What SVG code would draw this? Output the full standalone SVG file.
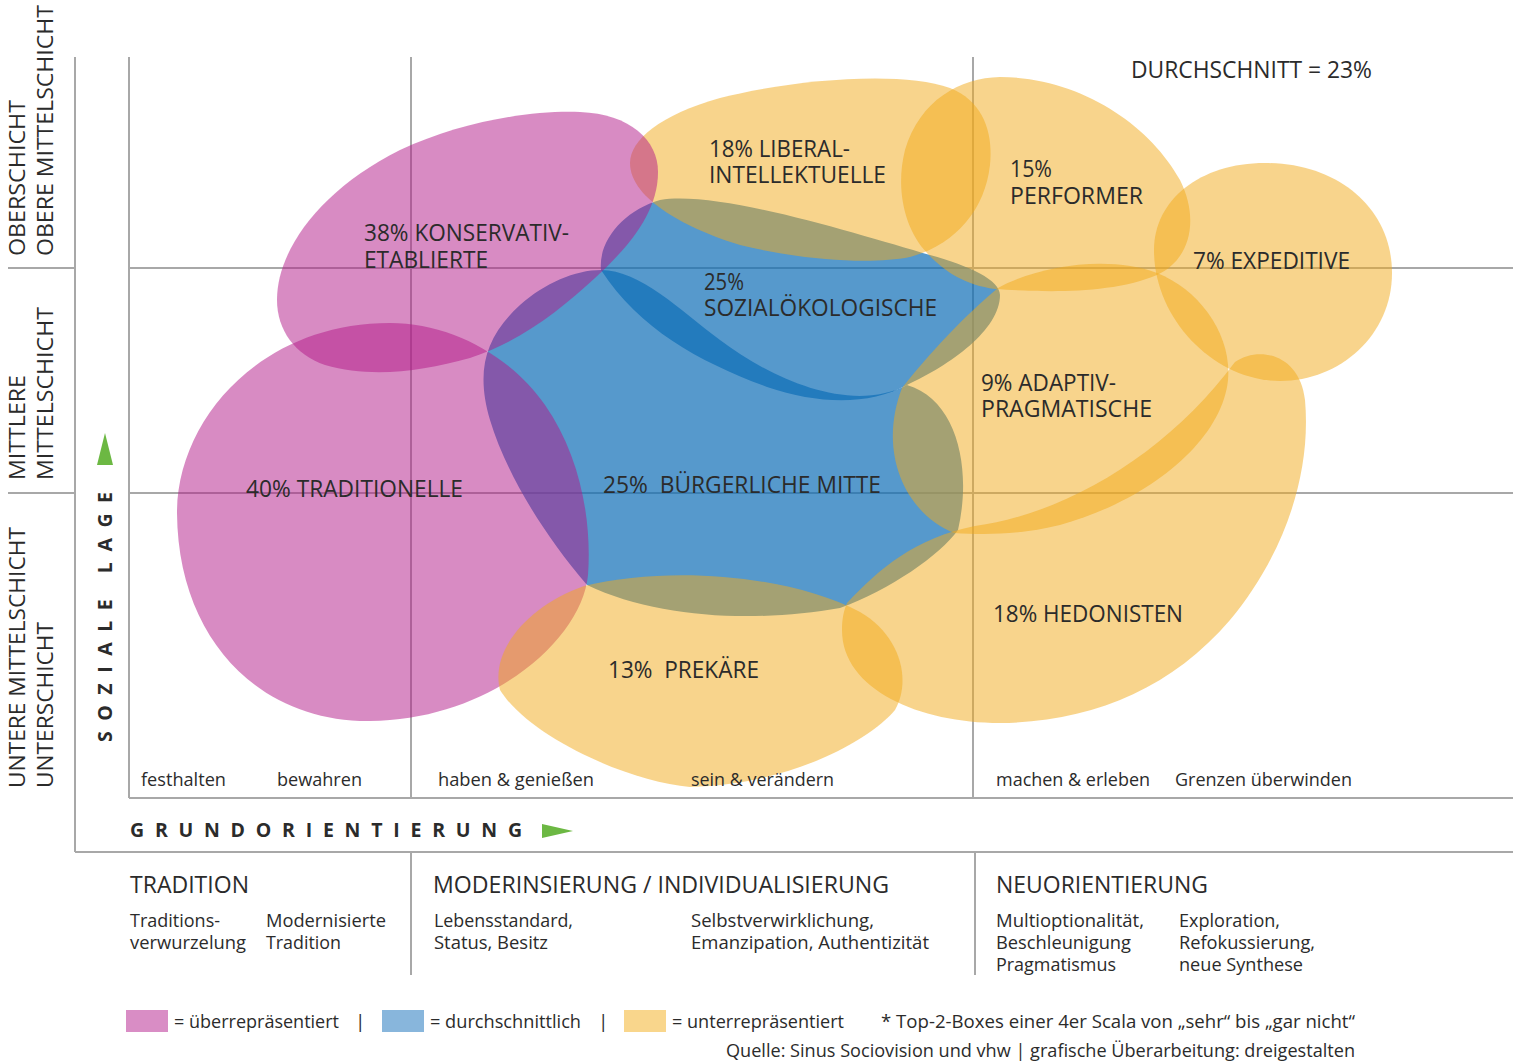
<svg xmlns="http://www.w3.org/2000/svg" width="1513" height="1063" viewBox="0 0 1513 1063">
<defs>
<style>
.g{stroke:#a8a8a8;stroke-width:2;fill:none}
.blue{fill:rgb(14,109,182);fill-opacity:0.7}
.pink{fill:rgb(177,23,135);fill-opacity:0.5}
.yel{fill:rgb(241,169,25);fill-opacity:0.5}
text{font-family:"Open Sans","Noto Sans",sans-serif;fill:#2b2b2b}
.lb{font-size:23px}
.sd{font-size:21px}
.ax{font-size:18.5px}
.hd{font-size:23px}
.ds{font-size:19px}
.bd{font-size:19.5px;font-weight:bold}
.green{fill:#6cb843}
</style>
</defs>
<rect width="1513" height="1063" fill="#ffffff"/>
<g id="grid" class="g">
<line x1="129" y1="57" x2="129" y2="798"/>
<line x1="411" y1="57" x2="411" y2="798"/>
<line x1="973" y1="57" x2="973" y2="798"/>
<line x1="129" y1="268" x2="1513" y2="268"/>
<line x1="129" y1="493" x2="1513" y2="493"/>
<line x1="129" y1="798" x2="1513" y2="798"/>
<line x1="75" y1="57" x2="75" y2="852"/>
<line x1="75" y1="852" x2="1513" y2="852"/>
<line x1="8" y1="268" x2="75" y2="268"/>
<line x1="8" y1="493" x2="75" y2="493"/>
<line x1="411" y1="852" x2="411" y2="975"/>
<line x1="975" y1="852" x2="975" y2="975"/>
</g>
<g id="connectors"></g>
<g id="sozialoekologische">
<path class="blue" d="M 601,270 C 598,240 625,210 660,200 C 720,190 860,235 930,255 C 970,266 1000,280 1000,295 C 1000,330 950,365 907,385 C 870,405 820,405 767,387 C 700,362 640,330 601,270 Z"/>
<text class="lb" x="704" y="290" textLength="40" lengthAdjust="spacingAndGlyphs">25%</text>
<text class="lb" x="704" y="316" textLength="233" lengthAdjust="spacingAndGlyphs">SOZIALÖKOLOGISCHE</text>
</g>
<g id="buergerliche-mitte">
<path class="blue" d="M 601,270 C 640,270 680,310 720,340 C 770,378 850,415 907,385 C 958,400 972,470 958,530 C 940,555 890,590 840,608 C 760,622 660,620 587,585 C 540,530 505,470 490,420 C 476,372 484,338 520,305 C 545,283 575,270 601,270 Z"/>
<text class="lb" x="603" y="493" textLength="278" lengthAdjust="spacingAndGlyphs" xml:space="preserve">25%  BÜRGERLICHE MITTE</text>
</g>
<g id="liberal-intellektuelle">
<path class="yel" d="M 630,163 C 630,140 660,115 720,98 C 790,80 900,70 950,88 C 985,102 993,135 990,165 C 985,210 955,245 910,257 C 870,265 800,260 740,245 C 690,230 630,200 630,163 Z"/>
<text class="lb" x="709" y="157" textLength="141" lengthAdjust="spacingAndGlyphs">18% LIBERAL-</text>
<text class="lb" x="709" y="183" textLength="177" lengthAdjust="spacingAndGlyphs">INTELLEKTUELLE</text>
</g>
<g id="konservativ-etablierte">
<path class="pink" d="M 277,300 C 277,250 320,190 400,150 C 460,122 530,110 580,112 C 630,114 658,140 658,172 C 658,215 625,250 595,278 C 560,310 520,342 470,358 C 420,372 370,378 325,365 C 295,355 277,330 277,300 Z"/>
<text class="lb" x="364" y="241" textLength="205" lengthAdjust="spacingAndGlyphs">38% KONSERVATIV-</text>
<text class="lb" x="364" y="268" textLength="124" lengthAdjust="spacingAndGlyphs">ETABLIERTE</text>
</g>
<g id="traditionelle">
<path class="pink" d="M 390,323 C 450,323 510,355 545,405 C 580,455 592,520 588,575 C 582,640 490,720 370,721 C 260,722 178,640 177,513 C 177,420 260,323 390,323 Z"/>
<text class="lb" x="246" y="497" textLength="217" lengthAdjust="spacingAndGlyphs">40% TRADITIONELLE</text>
</g>
<g id="performer">
<path class="yel" d="M 927,253 C 905,230 895,190 905,150 C 920,100 960,78 1000,77 C 1080,77 1150,125 1180,180 C 1200,220 1190,260 1157,275 C 1110,295 1040,292 995,289 C 965,285 945,272 927,253 Z"/>
<text class="lb" x="1010" y="177" textLength="42" lengthAdjust="spacingAndGlyphs">15%</text>
<text class="lb" x="1010" y="204" textLength="133" lengthAdjust="spacingAndGlyphs">PERFORMER</text>
</g>
<g id="expeditive">
<path class="yel" d="M 1154,250 C 1154,200 1200,163 1265,163 C 1340,163 1392,210 1392,273 C 1392,335 1340,381 1280,381 C 1215,381 1154,320 1154,250 Z"/>
<text class="lb" x="1193" y="269" textLength="157" lengthAdjust="spacingAndGlyphs">7% EXPEDITIVE</text>
</g>
<g id="adaptiv-pragmatische">
<path class="yel" d="M 998,288 C 1040,265 1110,255 1157,273 C 1200,290 1232,335 1228,380 C 1222,440 1150,500 1060,525 C 1020,535 985,535 954,533 C 903,512 878,450 902,388 C 928,355 965,315 998,288 Z"/>
<text class="lb" x="981" y="391" textLength="135" lengthAdjust="spacingAndGlyphs">9% ADAPTIV-</text>
<text class="lb" x="981" y="417" textLength="171" lengthAdjust="spacingAndGlyphs">PRAGMATISCHE</text>
</g>
<g id="hedonisten">
<path class="yel" d="M 847,603 C 880,568 915,538 975,526 C 1070,513 1170,450 1235,362 C 1260,345 1300,355 1305,400 C 1312,480 1280,560 1230,620 C 1170,690 1090,722 1000,723 C 920,723 842,690 842,630 C 842,618 844,610 847,603 Z"/>
<text class="lb" x="993" y="622" textLength="190" lengthAdjust="spacingAndGlyphs">18% HEDONISTEN</text>
</g>
<g id="prekaere">
<path class="yel" d="M 584,586 C 670,565 790,575 860,612 C 900,635 912,680 895,710 C 870,740 790,785 690,787 C 630,782 530,738 500,690 C 490,650 528,606 584,586 Z"/>
<text class="lb" x="608" y="678" textLength="151" lengthAdjust="spacingAndGlyphs" xml:space="preserve">13%  PREKÄRE</text>
</g>
<g id="durchschnitt">
<text class="lb" x="1131" y="78" textLength="241" lengthAdjust="spacingAndGlyphs">DURCHSCHNITT = 23%</text>
</g>
<g id="soziale-lage-axis">
<text class="sd" transform="translate(25,256) rotate(-90)" textLength="156" lengthAdjust="spacingAndGlyphs">OBERSCHICHT</text>
<text class="sd" transform="translate(53,256) rotate(-90)" textLength="251" lengthAdjust="spacingAndGlyphs">OBERE MITTELSCHICHT</text>
<text class="sd" transform="translate(25,480) rotate(-90)" textLength="105" lengthAdjust="spacingAndGlyphs">MITTLERE</text>
<text class="sd" transform="translate(53,480) rotate(-90)" textLength="173" lengthAdjust="spacingAndGlyphs">MITTELSCHICHT</text>
<text class="sd" transform="translate(25,788) rotate(-90)" textLength="261" lengthAdjust="spacingAndGlyphs">UNTERE MITTELSCHICHT</text>
<text class="sd" transform="translate(53,788) rotate(-90)" textLength="166" lengthAdjust="spacingAndGlyphs">UNTERSCHICHT</text>
<text class="bd" transform="translate(112,742) rotate(-90)" textLength="250" lengthAdjust="spacing">SOZIALE LAGE</text>
<polygon class="green" points="105,433 97,465 113,465"/>
</g>
<g id="grundorientierung-axis">
<text class="bd" x="130" y="837" textLength="392" lengthAdjust="spacing">GRUNDORIENTIERUNG</text>
<polygon class="green" points="542,824 542,838 573,831"/>
<text class="ax" x="141" y="786" textLength="85" lengthAdjust="spacingAndGlyphs">festhalten</text>
<text class="ax" x="277" y="786" textLength="85" lengthAdjust="spacingAndGlyphs">bewahren</text>
<text class="ax" x="438" y="786" textLength="156" lengthAdjust="spacingAndGlyphs">haben &amp; genießen</text>
<text class="ax" x="691" y="786" textLength="143" lengthAdjust="spacingAndGlyphs">sein &amp; verändern</text>
<text class="ax" x="996" y="786" textLength="154" lengthAdjust="spacingAndGlyphs">machen &amp; erleben</text>
<text class="ax" x="1175" y="786" textLength="177" lengthAdjust="spacingAndGlyphs">Grenzen überwinden</text>
</g>
<g id="orientierungen">
<text class="hd" x="130" y="893" textLength="119" lengthAdjust="spacingAndGlyphs">TRADITION</text>
<text class="hd" x="433" y="893" textLength="456" lengthAdjust="spacingAndGlyphs">MODERINSIERUNG / INDIVIDUALISIERUNG</text>
<text class="hd" x="996" y="893" textLength="212" lengthAdjust="spacingAndGlyphs">NEUORIENTIERUNG</text>
<text class="ds" x="130" y="927" textLength="90" lengthAdjust="spacingAndGlyphs">Traditions-</text>
<text class="ds" x="130" y="949" textLength="116" lengthAdjust="spacingAndGlyphs">verwurzelung</text>
<text class="ds" x="266" y="927" textLength="120" lengthAdjust="spacingAndGlyphs">Modernisierte</text>
<text class="ds" x="266" y="949" textLength="75" lengthAdjust="spacingAndGlyphs">Tradition</text>
<text class="ds" x="434" y="927" textLength="139" lengthAdjust="spacingAndGlyphs">Lebensstandard,</text>
<text class="ds" x="434" y="949" textLength="114" lengthAdjust="spacingAndGlyphs">Status, Besitz</text>
<text class="ds" x="691" y="927" textLength="183" lengthAdjust="spacingAndGlyphs">Selbstverwirklichung,</text>
<text class="ds" x="691" y="949" textLength="238" lengthAdjust="spacingAndGlyphs">Emanzipation, Authentizität</text>
<text class="ds" x="996" y="927" textLength="148" lengthAdjust="spacingAndGlyphs">Multioptionalität,</text>
<text class="ds" x="996" y="949" textLength="135" lengthAdjust="spacingAndGlyphs">Beschleunigung</text>
<text class="ds" x="996" y="971" textLength="120" lengthAdjust="spacingAndGlyphs">Pragmatismus</text>
<text class="ds" x="1179" y="927" textLength="101" lengthAdjust="spacingAndGlyphs">Exploration,</text>
<text class="ds" x="1179" y="949" textLength="136" lengthAdjust="spacingAndGlyphs">Refokussierung,</text>
<text class="ds" x="1179" y="971" textLength="124" lengthAdjust="spacingAndGlyphs">neue Synthese</text>
</g>
<g id="legend">
<rect x="126" y="1010" width="42" height="22" fill="#d98dc5"/>
<text class="ds" x="174" y="1028" textLength="165" lengthAdjust="spacingAndGlyphs">= überrepräsentiert</text>
<text class="ds" x="355" y="1028">|</text>
<rect x="382" y="1010" width="42" height="22" fill="#88b6dc"/>
<text class="ds" x="430" y="1028" textLength="151" lengthAdjust="spacingAndGlyphs">= durchschnittlich</text>
<text class="ds" x="598" y="1028">|</text>
<rect x="624" y="1010" width="42" height="22" fill="#f9d68c"/>
<text class="ds" x="672" y="1028" textLength="172" lengthAdjust="spacingAndGlyphs">= unterrepräsentiert</text>
<text class="ds" x="881" y="1028" textLength="474" lengthAdjust="spacingAndGlyphs">* Top-2-Boxes einer 4er Scala von „sehr“ bis „gar nicht“</text>
<text class="ds" x="726" y="1057" textLength="629" lengthAdjust="spacingAndGlyphs">Quelle: Sinus Sociovision und vhw | grafische Überarbeitung: dreigestalten</text>
</g>
</svg>
